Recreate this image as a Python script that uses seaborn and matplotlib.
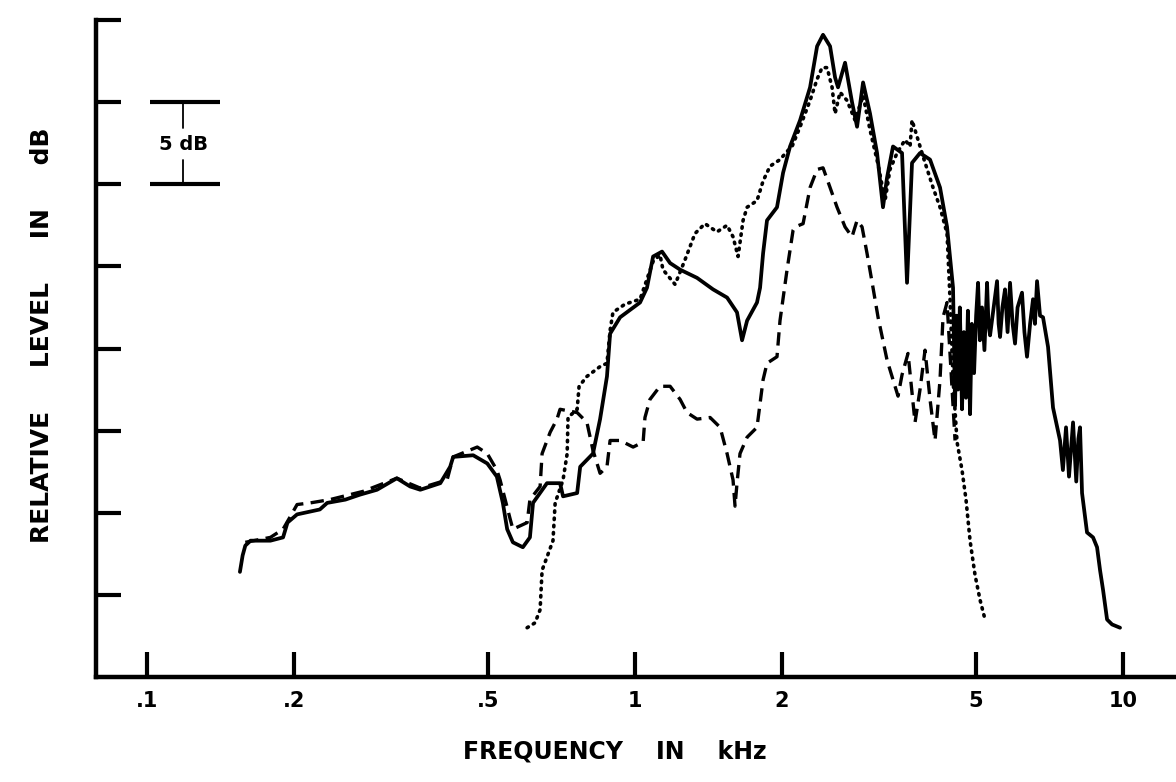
import numpy as np
import pandas as pd
import matplotlib
matplotlib.use("Agg")
import matplotlib.pyplot as plt
import matplotlib.transforms as mtransforms
import seaborn as sns

sns.set_style("ticks")
plt.rcParams["font.family"] = ["DejaVu Sans"]
plt.rcParams["text.color"] = "black"
plt.rcParams["xtick.color"] = "black"
plt.rcParams["ytick.color"] = "black"

# ---------------------------------------------------------------
# data (frequency in kHz, level in dB)
# ---------------------------------------------------------------
solid_khz = [0.155, 0.157, 0.159, 0.163, 0.179, 0.190, 0.194, 0.203, 0.226, 0.234,
             0.255, 0.273, 0.296, 0.325, 0.346, 0.363, 0.399, 0.418, 0.424, 0.466,
             0.498, 0.521, 0.536, 0.547, 0.562, 0.589, 0.609, 0.618, 0.660, 0.702,
             0.712, 0.761, 0.772, 0.820, 0.848, 0.876, 0.889, 0.932, 1.024, 1.058,
             1.089, 1.136, 1.180, 1.237, 1.340, 1.445, 1.544, 1.618, 1.657, 1.697,
             1.778, 1.804, 1.830, 1.864, 1.954, 2.011, 2.078, 2.179, 2.284, 2.361,
             2.428, 2.510, 2.570, 2.606, 2.694, 2.784, 2.851, 2.933, 3.031, 3.133,
             3.222, 3.284, 3.378, 3.525, 3.609, 3.695, 3.837, 4.023, 4.217, 4.359,
             4.484, 4.527, 4.560, 4.591, 4.630, 4.678, 4.720, 4.767, 4.810, 4.859,
             4.900, 4.952, 5.000, 5.046, 5.090, 5.141, 5.200, 5.265, 5.300, 5.340,
             5.430, 5.519, 5.560, 5.598, 5.660, 5.731, 5.800, 5.868, 5.940, 6.008,
             6.080, 6.151, 6.209, 6.280, 6.357, 6.450, 6.540, 6.600, 6.665, 6.760,
             6.856, 7.020, 7.187, 7.429, 7.530, 7.642, 7.750, 7.899, 8.020, 8.100,
             8.164, 8.242, 8.438, 8.681, 8.847, 8.973, 9.101, 9.275, 9.495, 9.860]
solid_db = [6.4, 7.4, 8.0, 8.3, 8.3, 8.5, 9.4, 9.9, 10.2, 10.6,
            10.8, 11.1, 11.4, 12.1, 11.6, 11.4, 11.8, 12.8, 13.4, 13.5,
            13.0, 12.2, 10.6, 9.0, 8.2, 7.9, 8.5, 10.6, 11.8, 11.8,
            11.0, 11.2, 12.8, 13.6, 15.7, 18.3, 20.9, 21.9, 22.8, 23.7,
            25.6, 25.9, 25.2, 24.8, 24.3, 23.6, 23.1, 22.2, 20.5, 21.7,
            22.8, 23.7, 25.8, 27.8, 28.6, 30.7, 32.3, 33.9, 35.9, 38.4,
            39.1, 38.4, 36.5, 35.9, 37.4, 35.0, 33.5, 36.2, 34.3, 31.9,
            28.6, 30.4, 32.3, 31.9, 24.0, 31.3, 31.9, 31.5, 29.8, 27.4,
            23.7, 16.5, 22.0, 17.5, 22.5, 16.3, 21.0, 17.0, 22.3, 16.0,
            21.5, 18.5, 22.0, 24.0, 20.5, 22.5, 19.9, 24.0, 21.5, 20.8,
            22.5, 24.1, 21.5, 20.7, 22.5, 23.6, 21.0, 24.0, 21.5, 20.3,
            22.5, 23.0, 23.4, 21.0, 19.5, 21.5, 23.0, 21.5, 24.1, 22.0,
            21.9, 20.1, 16.4, 14.4, 12.6, 15.2, 12.2, 15.5, 11.9, 14.5,
            15.2, 11.2, 8.8, 8.5, 7.9, 6.5, 5.3, 3.5, 3.2, 3.0]

dashed_khz = [0.159, 0.179, 0.190, 0.196, 0.203, 0.216, 0.237, 0.277, 0.325, 0.363,
              0.412, 0.424, 0.475, 0.498, 0.521, 0.529, 0.555, 0.562, 0.601, 0.609,
              0.639, 0.645, 0.670, 0.692, 0.702, 0.761, 0.797, 0.820, 0.848, 0.876,
              0.889, 0.932, 0.991, 1.039, 1.048, 1.073, 1.125, 1.180, 1.237, 1.278,
              1.340, 1.425, 1.494, 1.544, 1.588, 1.603, 1.618, 1.641, 1.697, 1.778,
              1.830, 1.864, 1.954, 1.982, 2.049, 2.108, 2.128, 2.210, 2.284, 2.361,
              2.428, 2.510, 2.594, 2.694, 2.784, 2.851, 2.919, 2.988, 3.074, 3.148,
              3.284, 3.378, 3.459, 3.525, 3.626, 3.748, 3.837, 3.929, 4.023, 4.119,
              4.217, 4.277, 4.359, 4.527]
dashed_db = [8.2, 8.5, 9.0, 9.7, 10.5, 10.6, 10.8, 11.3, 12.1, 11.5,
             12.0, 13.4, 14.0, 13.6, 12.6, 12.0, 9.6, 9.0, 9.4, 10.8,
             11.6, 13.6, 14.9, 15.7, 16.3, 16.1, 15.5, 13.8, 12.4, 12.8,
             14.4, 14.4, 14.0, 14.3, 15.8, 16.9, 17.7, 17.7, 16.9, 16.1,
             15.7, 15.8, 15.2, 13.6, 12.0, 10.4, 11.8, 13.6, 14.6, 15.2,
             18.1, 19.1, 19.5, 21.7, 24.8, 27.2, 27.4, 27.6, 29.8, 30.9,
             31.0, 29.8, 28.6, 27.4, 26.8, 27.8, 27.4, 25.8, 23.7, 21.9,
             19.3, 18.1, 17.1, 18.4, 19.7, 15.5, 17.5, 19.9, 16.9, 14.4,
             18.1, 21.9, 22.8, 14.4]

dotted_khz = [0.601, 0.624, 0.639, 0.645, 0.660, 0.679, 0.686, 0.712, 0.726, 0.729,
              0.761, 0.768, 0.797, 0.848, 0.876, 0.889, 0.901, 0.954, 1.024, 1.089,
              1.125, 1.141, 1.208, 1.266, 1.327, 1.391, 1.472, 1.544, 1.588, 1.626,
              1.665, 1.697, 1.778, 1.830, 1.891, 1.982, 2.049, 2.098, 2.179, 2.284,
              2.361, 2.417, 2.475, 2.534, 2.570, 2.631, 2.719, 2.824, 2.933, 3.031,
              3.148, 3.253, 3.330, 3.443, 3.575, 3.661, 3.695, 3.784, 3.892, 4.080,
              4.217, 4.359, 4.421, 4.484, 4.570, 4.678, 4.767, 4.859, 4.975, 5.093,
              5.215]
dotted_db = [3.0, 3.3, 4.1, 6.5, 7.3, 8.3, 10.6, 12.0, 13.6, 15.8,
             16.3, 17.7, 18.3, 18.9, 19.1, 21.1, 22.2, 22.7, 23.0, 25.3,
             25.7, 24.8, 23.9, 25.4, 27.0, 27.6, 27.1, 27.5, 26.8, 25.6,
             27.8, 28.6, 29.0, 30.2, 31.1, 31.5, 32.0, 32.3, 33.5, 35.1,
             36.4, 37.1, 37.1, 35.9, 34.3, 35.6, 35.1, 33.9, 35.4, 33.3,
             31.2, 29.0, 30.9, 31.9, 32.7, 32.3, 33.9, 32.9, 31.7, 29.8,
             28.6, 27.0, 23.0, 18.1, 14.3, 12.6, 10.8, 8.3, 6.2, 4.7,
             3.5]

tick_khz = [0.1, 0.2, 0.5, 1, 2, 5, 10]
tick_text = [".1", ".2", ".5", "1", "2", "5", "10"]
level_ticks = [5, 10, 15, 20, 25, 30, 35, 40]

solid = pd.DataFrame({"khz": solid_khz, "db": solid_db})
dashed = pd.DataFrame({"khz": dashed_khz, "db": dashed_db})
dotted = pd.DataFrame({"khz": dotted_khz, "db": dotted_db})

# ---------------------------------------------------------------
# figure
# ---------------------------------------------------------------
fig = plt.figure(figsize=(11.76, 7.82), dpi=100)
ax = fig.add_axes([96 / 1176, 1 - 677 / 782, 1 - 96 / 1176, 657 / 782])

sns.lineplot(data=solid, x="khz", y="db", ax=ax, sort=False, estimator=None,
             color="black", lw=2.7, solid_joinstyle="round")
sns.lineplot(data=dashed, x="khz", y="db", ax=ax, sort=False, estimator=None,
             color="black", lw=2.4, linestyle=(0, (4, 2.2)))
sns.lineplot(data=dotted, x="khz", y="db", ax=ax, sort=False, estimator=None,
             color="black", lw=2.6, linestyle=(0, (0.4, 1.6)),
             dash_capstyle="round")

ax.set_xscale("log")
ax.set_xlim(0.0786, 12.84)
ax.set_ylim(0, 40)
ax.set_xticks(tick_khz)
ax.set_xticklabels(tick_text, fontsize=15, fontweight="bold")
ax.xaxis.set_minor_locator(matplotlib.ticker.NullLocator())
ax.set_yticks(level_ticks)
ax.set_yticklabels([])
ax.tick_params(axis="both", which="major", direction="in", length=18, width=3,
               color="black", bottom=True, left=True, top=False, right=False)
ax.tick_params(axis="x", pad=10)

for side in ["top", "right"]:
    ax.spines[side].set_visible(False)
for side in ["left", "bottom"]:
    ax.spines[side].set_linewidth(3.2)
    ax.spines[side].set_color("black")
    ax.spines[side].set_capstyle("projecting")

ax.set_xlabel("")
ax.set_ylabel("")
fig.text(0.523, 1 - 752 / 782, "FREQUENCY    IN    kHz", ha="center", va="center",
         fontsize=17, fontweight="bold")
fig.text(42 / 1176, 1 - 335 / 782, "RELATIVE     LEVEL     IN     dB", ha="center",
         va="center", rotation=90, fontsize=18, fontweight="bold")

# 5 dB scale bar
trans = mtransforms.blended_transform_factory(ax.transAxes, ax.transData)
for lev in [30, 35]:
    ax.plot([0.05, 0.115], [lev, lev], color="black", lw=3, transform=trans,
            solid_capstyle="butt", clip_on=False)
ax.plot([0.0806, 0.0806], [35, 33.4], color="black", lw=1.3, transform=trans)
ax.plot([0.0806, 0.0806], [31.5, 30], color="black", lw=1.3, transform=trans)
ax.text(0.0806, 32.45, "5 dB", transform=trans, ha="center", va="center",
        fontsize=14, fontweight="bold")

fig.savefig("out.png", dpi=100)
